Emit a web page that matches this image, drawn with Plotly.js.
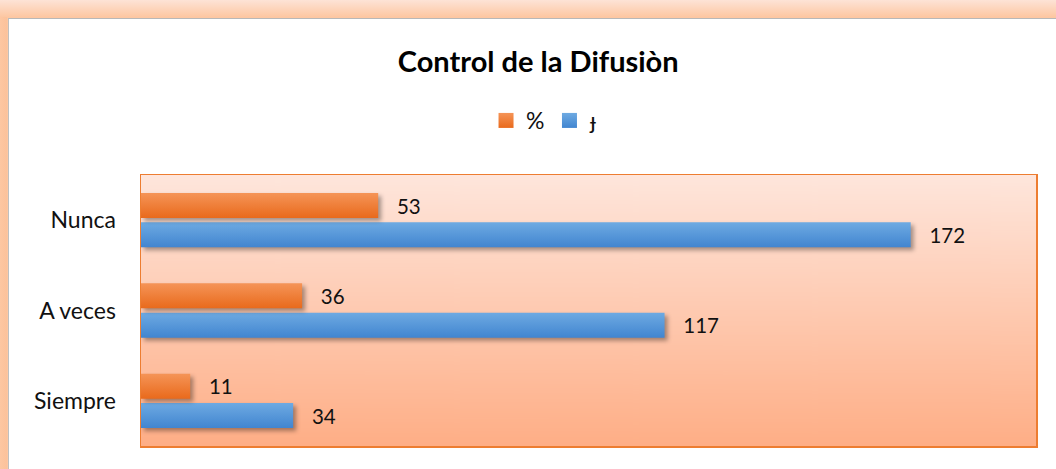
<!DOCTYPE html>
<html>
<head>
<meta charset="utf-8">
<script src="https://cdn.plot.ly/plotly-3.0.1.min.js"></script>
<style>
  html, body { margin:0; padding:0; width:1056px; height:469px; overflow:hidden; }
  body { background: linear-gradient(to bottom, #fde3d6 0px, #fdc7a2 17px); position:relative; }
  #frame { position:absolute; left:0; top:17px; width:1056px; height:452px;
           background: linear-gradient(to right, #fdc7a2 0px, #fcc29b 7px, transparent 7px); }
  #chart { position:absolute; left:8px; top:18px; width:1048px; height:451px;
           background:#fff; border-top:1px solid #b8b8b8; border-left:1px solid #c0c0c0; }
  .bars .point path { filter: drop-shadow(3px 3px 2px rgba(0,0,0,0.35)); }
</style>
</head>
<body>
<div id="frame"></div>
<div id="chart"></div>
<script>
const categories = ['Nunca', 'A veces', 'Siempre'];
const pctValues = [53, 36, 11];
const freqValues = [172, 117, 34];
const seriesNames = ['%', '\u025F'];
const chartTitle = 'Control de la Difusi\u00f2n';

// gradient background image for the plot area
const cv = document.createElement('canvas');
cv.width = 10; cv.height = 300;
const ctx = cv.getContext('2d');
const g = ctx.createLinearGradient(0, 0, 0, 300);
g.addColorStop(0, '#fee6dc');
g.addColorStop(1, '#feae86');
ctx.fillStyle = g; ctx.fillRect(0, 0, 10, 300);
const bgURL = cv.toDataURL('image/png');

const fontFam = 'Lato, "Open Sans", sans-serif';
const pad = '\u00a0\u00a0\u00a0';
const traceFreq = {
  type: 'bar', orientation: 'h', name: seriesNames[1],
  y: categories, x: freqValues,
  marker: { color: '#4f93d6' },
  text: freqValues.map(v => pad + v), textposition: 'outside', cliponaxis: false,
  textfont: { size: 23, color: '#111', family: fontFam },
  hoverinfo: 'x', legendrank: 2
};
const tracePct = {
  type: 'bar', orientation: 'h', name: seriesNames[0],
  y: categories, x: pctValues,
  marker: { color: '#ef7a2a' },
  text: pctValues.map(v => pad + v), textposition: 'outside', cliponaxis: false,
  textfont: { size: 23, color: '#111', family: fontFam },
  hoverinfo: 'x', legendrank: 1
};

const layout = {
  width: 1048, height: 451,
  margin: { l: 132, r: 21, t: 156, b: 24, pad: 0 },
  paper_bgcolor: '#ffffff',
  plot_bgcolor: 'rgba(0,0,0,0)',
  font: { family: fontFam, color: '#111' },
  title: { text: '<b>' + chartTitle + '</b>', font: { size: 29, color: '#000' },
           x: 0.505, xref: 'container', xanchor: 'center', y: 0.905, yref: 'container', yanchor: 'middle' },
  showlegend: true,
  legend: { orientation: 'h', x: 0.511, xref: 'container', xanchor: 'center',
            y: 0.775, yref: 'container', yanchor: 'middle',
            font: { size: 23 }, itemwidth: 30, itemclick: false, traceorder: 'normal' },
  barmode: 'group', bargap: 0.35, bargroupgap: 0.15,
  xaxis: { range: [0, 200], showticklabels: false, showgrid: false, zeroline: false,
           showline: true, mirror: true, linecolor: '#ed7d31', linewidth: 1.5, fixedrange: true },
  yaxis: { categoryorder: 'array', categoryarray: categories.slice().reverse(),
           showgrid: false, zeroline: false, showline: true, mirror: true,
           linecolor: '#ed7d31', linewidth: 1.5, ticks: '', ticklabelstandoff: 19,
           tickfont: { size: 23, color: '#111' }, fixedrange: true },
  images: [{ source: bgURL, xref: 'paper', yref: 'paper', x: 0, y: 1, sizex: 1, sizey: 1,
             xanchor: 'left', yanchor: 'top', sizing: 'stretch', layer: 'below' }]
};

function addGradients(gd) {
  const svg = gd.querySelector('svg.main-svg');
  if (!svg) return;
  const NS = 'http://www.w3.org/2000/svg';
  let defs = svg.querySelector('defs');
  if (!defs) { defs = document.createElementNS(NS, 'defs'); svg.insertBefore(defs, svg.firstChild); }
  const mk = (id, c1, c2) => {
    const lg = document.createElementNS(NS, 'linearGradient');
    lg.setAttribute('id', id); lg.setAttribute('x1', '0'); lg.setAttribute('y1', '0');
    lg.setAttribute('x2', '0'); lg.setAttribute('y2', '1');
    [[0, c1], [1, c2]].forEach(([o, c]) => {
      const s = document.createElementNS(NS, 'stop');
      s.setAttribute('offset', o); s.setAttribute('stop-color', c); defs.appendChild(lg); lg.appendChild(s);
    });
  };
  mk('gradOrange', '#f59457', '#e96a1c');
  mk('gradBlue', '#6eaae2', '#4185d0');
  const traces = gd.querySelectorAll('.barlayer .trace');
  // trace 0 = freq (blue), trace 1 = pct (orange)
  traces.forEach((t, i) => {
    t.querySelectorAll('.point path').forEach(p => {
      p.style.fill = i === 0 ? 'url(#gradBlue)' : 'url(#gradOrange)';
    });
  });
  gd.querySelectorAll('.legend .traces').forEach(t => {
    const name = t.textContent.trim();
    t.querySelectorAll('.legendpoints path').forEach(p => {
      p.style.fill = name === seriesNames[0] ? 'url(#gradOrange)' : 'url(#gradBlue)';
      const tr = p.getAttribute('transform') || '';
      p.setAttribute('transform', tr + ' scale(1.25)');
    });
  });
}

Plotly.newPlot('chart', [traceFreq, tracePct], layout, { displayModeBar: false, staticPlot: true })
  .then(addGradients);
</script>
</body>
</html>
